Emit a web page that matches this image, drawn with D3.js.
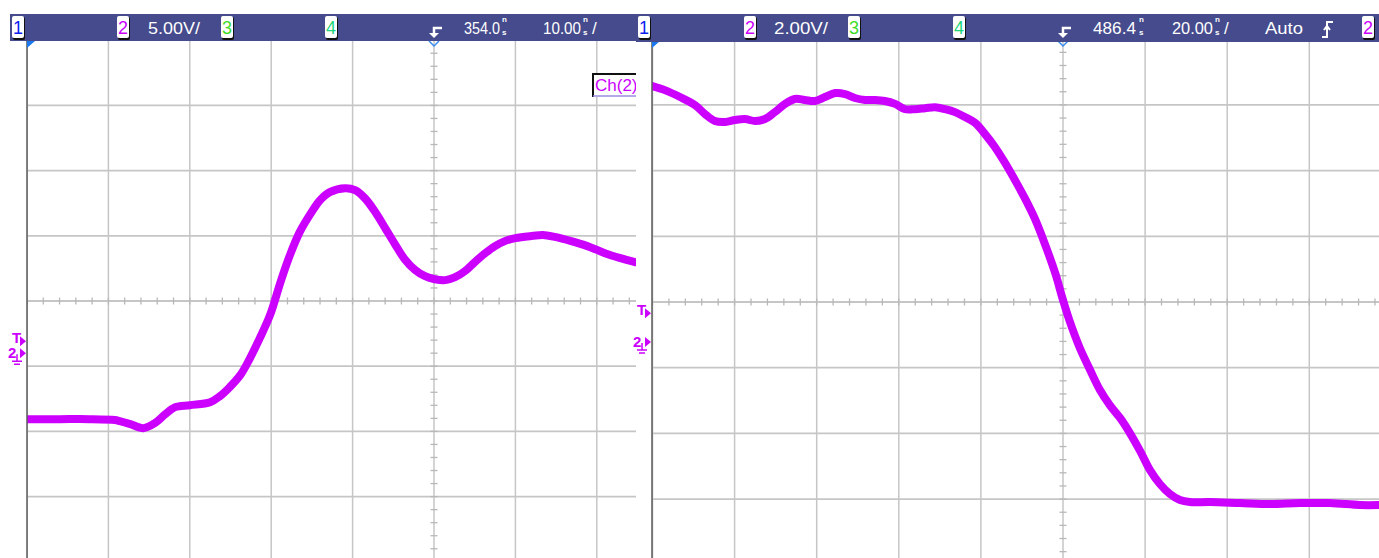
<!DOCTYPE html>
<html>
<head>
<meta charset="utf-8">
<script src="https://cdn.jsdelivr.net/npm/d3@7/dist/d3.min.js"></script>
<style>
body{margin:0;background:#ffffff;overflow:hidden}
</style>
</head>
<body>
<svg id="svg" width="1379" height="558"></svg>
<script>
// left capture : 5.00V/div, 10.00ns/div
let leftTime=[-50,-46,-42.3,-39.2,-38.6,-37.3,-35.7,-34.3,-33,-31.8,-30,-27.5,-26.3,-25.1,-23.8,-22.6,-21.4,-20.1,-18.9,-17.7,-16.5,-15.2,-14,-12.8,-10.9,-9.7,-8.5,-7.2,-6,-4.8,-3.6,-2.3,-1.1,0.1,1.4,2.6,3.8,5,6.3,7.5,8.7,10,11.8,13.6,15.5,17.3,19.2,21,22.9,24.7];
let leftVolt=[-5.06,-5.06,-5.06,-5.13,-5.21,-5.44,-5.75,-5.37,-4.68,-4.14,-3.99,-3.76,-3.3,-2.61,-1.69,-0.38,1.15,2.99,5.37,7.52,9.28,10.66,11.73,12.35,12.65,12.5,11.89,10.81,9.59,8.36,7.21,6.37,5.9,5.67,5.6,5.83,6.29,6.98,7.67,8.21,8.59,8.82,8.97,9.05,8.82,8.51,8.13,7.67,7.29,6.98];
// right capture : 2.00V/div, 20.00ns/div
let rightTime=[-100,-97,-93.3,-89.6,-87.2,-84.8,-82.3,-79.9,-77.5,-75,-72.6,-70.2,-67.7,-65.3,-62.9,-60.4,-58,-55.5,-53.1,-50.7,-48.2,-45.8,-43.4,-40.9,-38.5,-36.1,-33.6,-31.2,-28.7,-26.3,-23.9,-21.4,-19,-16.6,-14.1,-11.7,-9.3,-6.8,-4.4,-1.9,0,1.7,4.1,6.6,9,11.4,13.9,16.3,18.8,21.2,23.6,26.1,28.5,30.9,35.8,43.1,50.4,57.7,65,72.3,77];
let rightVolt=[7.79,7.67,7.46,7.21,6.94,6.73,6.7,6.76,6.79,6.73,6.79,7,7.25,7.4,7.37,7.34,7.46,7.58,7.55,7.43,7.37,7.37,7.34,7.25,7.09,7.09,7.12,7.15,7.09,7,6.85,6.67,6.33,5.94,5.45,4.93,4.38,3.74,2.98,2.1,1.28,0.61,-0.18,-0.85,-1.46,-1.92,-2.31,-2.77,-3.32,-3.9,-4.32,-4.63,-4.81,-4.87,-4.87,-4.9,-4.93,-4.9,-4.9,-4.96,-4.96];

let leftHeader=["5.00V/","354.0","10.00"];
let rightHeader=["2.00V/","486.4","20.00","Auto"];

const trace="#cc00ff";
const grid="#c6c6c6";
const bar="#454b8c";
const svg=d3.select("#svg");
let markers=[];

const panel=(id,x0,x1,center,divX,tDiv,yCenter,divY,vDiv,vOffset,time,volt,trig)=>
{
    let x=d3.scaleLinear().domain([-5*tDiv,5*tDiv]).range([center-5*divX,center+5*divX]);
    let y=d3.scaleLinear().domain([vOffset-4*vDiv,vOffset+4*vDiv]).range([yCenter+4*divY,yCenter-4*divY]);
    svg.append("clipPath").attr("id","clip"+id).append("rect").attr("x",x0).attr("y",41).attr("width",x1-x0).attr("height",517);
    let g=svg.append("g").attr("clip-path","url(#clip"+id+")");
    let tx=d3.range(-5,6).map(d=>d*tDiv);
    let vy=d3.range(-4,5).map(d=>vOffset+d*vDiv);
    g.selectAll(".vx").data(tx).enter().append("line").attr("x1",d=>x(d)).attr("x2",d=>x(d)).attr("y1",41).attr("y2",558).attr("stroke",grid).attr("stroke-width",1.5);
    g.selectAll(".hy").data(vy).enter().append("line").attr("x1",x0).attr("x2",x1).attr("y1",d=>y(d)).attr("y2",d=>y(d)).attr("stroke",grid).attr("stroke-width",1.8);
    let minorX=d3.range(-25,26).map(d=>d*tDiv/5);
    let minorY=d3.range(-20,21).map(d=>vOffset+d*vDiv/5);
    g.selectAll(".mx").data(minorX).enter().append("line").attr("x1",d=>x(d)).attr("x2",d=>x(d)).attr("y1",y(vOffset)-3.5).attr("y2",y(vOffset)+3.5).attr("stroke","#b8b8b8").attr("stroke-width",1.3);
    g.selectAll(".my").data(minorY).enter().append("line").attr("x1",x(0)-3.5).attr("x2",x(0)+3.5).attr("y1",d=>y(d)).attr("y2",d=>y(d)).attr("stroke","#b8b8b8").attr("stroke-width",1.3);
    let line=d3.line().x((d,i)=>x(time[i])).y(d=>y(d)).curve(d3.curveCatmullRom);
    g.append("path").attr("d",line(volt)).attr("fill","none").attr("stroke",trace).attr("stroke-width",8).attr("stroke-linejoin","round").attr("stroke-linecap","round");
    svg.append("line").attr("x1",x0).attr("x2",x0).attr("y1",41).attr("y2",558).attr("stroke","#5a5a5a").attr("stroke-width",1.5);
    // corner and trigger position markers
    svg.append("path").attr("d","M"+x0+",41 h8 l-8,7 z").attr("fill","#1b78ef");
    svg.append("path").attr("d","M"+(x(0)-5)+",41 L"+x(0)+",46 L"+(x(0)+5)+",41").attr("fill","none").attr("stroke","#3b8cf0").attr("stroke-width",1.5);
    markers.push({edge:x0,ty:y(trig),gy:y(0)});
}

const levelMarks=(m)=>
{
    let e=m.edge-1, ty=m.ty, gy=m.gy;
    svg.append("text").attr("x",e-14).attr("y",ty+2).style("font-size",15).style("font-family","Liberation Sans").style("font-weight",700).style("fill",trace).text("T");
    svg.append("path").attr("d","M"+(e-6)+","+(ty-5)+" l6,5 l-6,5 z").attr("fill",trace);
    svg.append("text").attr("x",e-18).attr("y",gy+5).style("font-size",15).style("font-family","Liberation Sans").style("font-weight",700).style("fill",trace).text("2");
    svg.append("path").attr("d","M"+(e-6)+","+(gy-5)+" l6,5 l-6,5 z").attr("fill",trace);
    svg.append("path").attr("d","M"+(e-9)+","+(gy+1)+" v7 M"+(e-14)+","+(gy+8)+" h10 M"+(e-12)+","+(gy+11)+" h6").attr("stroke",trace).attr("stroke-width",1.5);
}

const chanBox=(x,label,color)=>
{
    svg.append("rect").attr("x",x+1).attr("y",17).attr("width",12).attr("height",23).attr("rx",2).attr("fill","#111");
    svg.append("rect").attr("x",x).attr("y",16).attr("width",12).attr("height",22).attr("rx",2).attr("fill","#ffffff");
    svg.append("text").attr("x",x+6).attr("y",34).attr("text-anchor","middle").style("font-size",18).style("font-family","Liberation Sans").style("fill",color).text(label);
}
const label=(x,t,w)=>
{
    let s=svg.append("text").attr("x",0).attr("y",0).style("font-size",17).style("font-family","Liberation Sans").style("fill","#ffffff").text(t);
    let k=w ? w/s.node().getComputedTextLength() : 1;
    s.attr("transform","translate("+x+",34) scale("+k+",1)");
}
const ns=(x)=>
{
    let t=svg.append("text").style("font-size",8).style("font-family","Liberation Sans").style("font-weight",700).style("fill","#ffffff");
    t.append("tspan").attr("x",x).attr("y",22).text("n");
    t.append("tspan").attr("x",x).attr("y",35).text("s");
}
const trigIcon=(x)=>
{
    svg.append("path").attr("d","M"+(x+8)+",28 H"+x+" V33").attr("fill","none").attr("stroke","#ffffff").attr("stroke-width",2.5);
    svg.append("path").attr("d","M"+(x-5)+",33 h10 l-5,5 z").attr("fill","#ffffff");
}

panel("L",27,636,434,81.4,10,301,65.2,5,4,leftTime,leftVolt,0.92);
panel("R",652,1379,1063,82.1,20,302,65.7,2,1.22,rightTime,rightVolt,0.88);

// Ch(2) tag
svg.append("rect").attr("x",592).attr("y",73).attr("width",46).attr("height",24).attr("fill","#ffffff");
svg.append("path").attr("d","M593,97 V74 H637").attr("fill","none").attr("stroke","#111").attr("stroke-width",2);
svg.append("line").attr("x1",593).attr("x2",637).attr("y1",96).attr("y2",96).attr("stroke","#9a8ce0").attr("stroke-width",1.5);
svg.append("text").attr("x",595).attr("y",91).style("font-size",17).style("font-family","Liberation Sans").style("fill",trace).text("Ch(2)");
svg.append("rect").attr("x",636).attr("y",41).attr("width",15).attr("height",517).attr("fill","#ffffff");
markers.forEach(levelMarks);

// header bars
svg.append("rect").attr("x",10).attr("y",14).attr("width",626).attr("height",27).attr("fill",bar);
svg.append("rect").attr("x",636).attr("y",14).attr("width",743).attr("height",28).attr("fill",bar);

chanBox(12,"1","#0b1df0");
chanBox(117,"2",trace);
label(148,leftHeader[0],52);
chanBox(221,"3","#3fdc2a");
chanBox(325,"4","#1fd67a");
trigIcon(434);
label(464,leftHeader[1],36); ns(502);
label(543,leftHeader[2],38); ns(583); label(592,"/");

chanBox(638,"1","#0b1df0");
chanBox(744,"2",trace);
label(774,rightHeader[0],54);
chanBox(848,"3","#3fdc2a");
chanBox(953,"4","#1fd67a");
trigIcon(1063);
label(1093,rightHeader[1],43); ns(1139);
label(1172,rightHeader[2],41); ns(1215); label(1224,"/");
label(1265,rightHeader[3],38);
svg.append("path").attr("d","M1322,37 H1327 V22 H1333 M1324,30 L1327,26 L1330,30").attr("fill","none").attr("stroke","#ffffff").attr("stroke-width",2);
chanBox(1362,"2",trace);
</script>
</body>
</html>
